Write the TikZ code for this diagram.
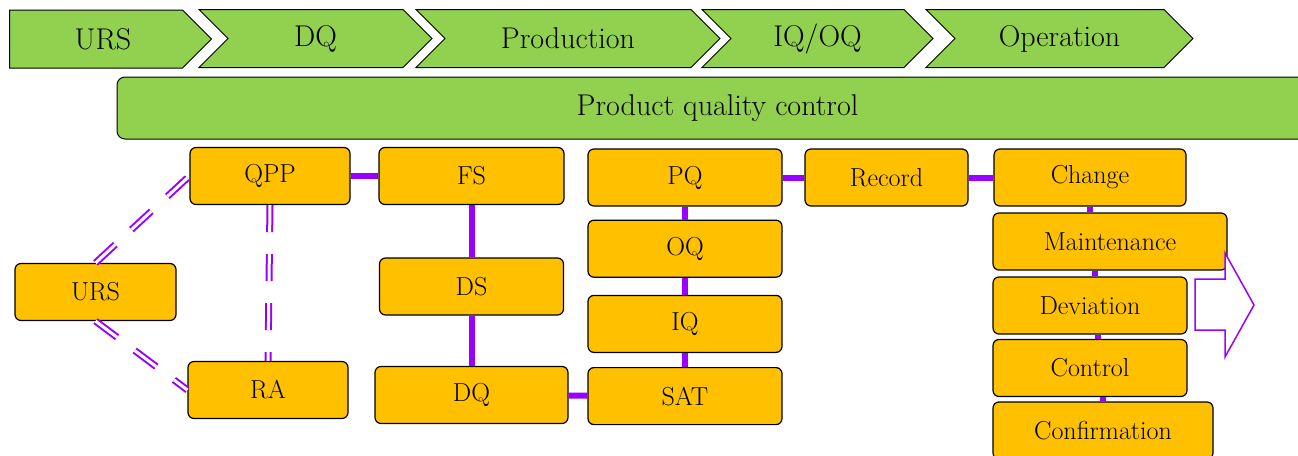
\documentclass[tikz,border=0pt]{standalone}
\usepackage{tikz}
\usetikzlibrary{positioning,shapes.symbols}

\definecolor{barGreen}{RGB}{146,208,80}
\definecolor{boxOrange}{RGB}{255,192,0}
\definecolor{linkViolet}{RGB}{153,0,255}

\begin{document}
\begin{tikzpicture}[x=1pt, y=-1pt,
  mychev/.style={signal, signal to=east, signal from=west, signal pointer angle=90,
    draw, fill=barGreen, line width=1pt, minimum height=58pt, inner sep=0pt,
    font=\fontsize{30}{34}\selectfont},
  mybar/.style={draw, rounded corners=8pt, fill=barGreen, line width=1pt,
    minimum height=62pt, font=\fontsize{30}{34}\selectfont},
  mybox/.style={draw, rounded corners=6pt, fill=boxOrange, line width=1.2pt,
    minimum height=57pt, inner sep=0pt, font=\fontsize{26}{30}\selectfont},
  mylink/.style={draw=linkViolet, line width=6pt},
  mydash/.style={draw=linkViolet, line width=2pt, double=white, double distance=3pt,
    dash pattern=on 27pt off 22pt},
 ]
\useasboundingbox (0,0) rectangle (1298,455);
\clip (0,0) rectangle (1298,455);

% phases
\node[mychev, signal from=nowhere, minimum width=202pt] (sURS) at (96,39) {\hspace*{14pt}URS};
\node[mychev, minimum width=233pt] (sDQ) at (315.5,38.5) {DQ};
\node[mychev, minimum width=304pt] (sProd) at (568,38.5) {Production};
\node[mychev, minimum width=231pt] (sIQOQ) at (817.5,38.5) {IQ/OQ};
\node[mychev, minimum width=267pt] (sOper) at (1059.5,38.5) {Operation};

\node[mybar, minimum width=1201pt] (pqc) at (717.5,108) {Product quality control};

% design
\node[mybox, minimum width=161pt] (URS) at (95.5,292) {URS};
\node[mybox, minimum width=160pt] (QPP) at (270,176) {QPP};
\node[mybox, minimum width=160pt] (RA) at (268,390) {RA};
\node[mybox, minimum width=185pt] (FS) at (471.5,176) {FS};
\node[mybox, minimum width=184pt, below=52.3pt of FS] (DS) {DS};
\node[mybox, minimum width=193pt, below=50.3pt of DS] (DQ) {DQ};

% qualification
\node[mybox, minimum width=194pt] (PQ) at (685,177.5) {PQ};
\node[mybox, minimum width=194pt, below=13pt of PQ] (OQ) {OQ};
\node[mybox, minimum width=194pt, below=17pt of OQ] (IQ) {IQ};
\node[mybox, minimum width=194pt, below=14pt of IQ] (SAT) {SAT};
\node[mybox, minimum width=163pt] (Record) at (886.5,177.5) {Record};

% operation
\node[mybox, minimum width=192pt] (Change) at (1090,177.5) {Change};
\node[mybox, minimum width=234pt] (Maint) at (1110,241.5) {Maintenance};
\node[mybox, minimum width=194pt] (Dev) at (1090,305.5) {Deviation};
\node[mybox, minimum width=194pt] (Control) at (1090,368) {Control};
\node[mybox, minimum width=220pt] (Confirm) at (1103,430.5) {Confirmation};

\draw[mydash] (URS.north) -- (QPP.west);
\draw[mydash] (URS.south) -- (RA.west);
\draw[mydash] (QPP.south) -- (RA.north);

\path[mylink]
(QPP) edge (FS)
(FS) edge (DS)
(DS) edge (DQ)
(DQ) edge (SAT)
(SAT) edge (IQ)
(IQ) edge (OQ)
(OQ) edge (PQ)
(PQ) edge (Record)
(Record) edge (Change);

\draw[mylink] (Change.south) -- (Change.south |- Maint.north);
\draw[mylink] ([xshift=5pt]Dev.north) -- ([xshift=5pt]Dev.north |- Maint.south);
\draw[mylink] ([xshift=8pt]Control.north) -- ([xshift=8pt]Dev.south);
\draw[mylink] (Confirm.north) -- (Confirm.north |- Control.south);

\draw[draw=linkViolet, line width=1.5pt, fill=white]
  (1195,279) -- (1225,279) -- (1225,253) -- (1254,305) -- (1225,357)
  -- (1225,330) -- (1195,330) -- cycle;

\end{tikzpicture}
\end{document}
